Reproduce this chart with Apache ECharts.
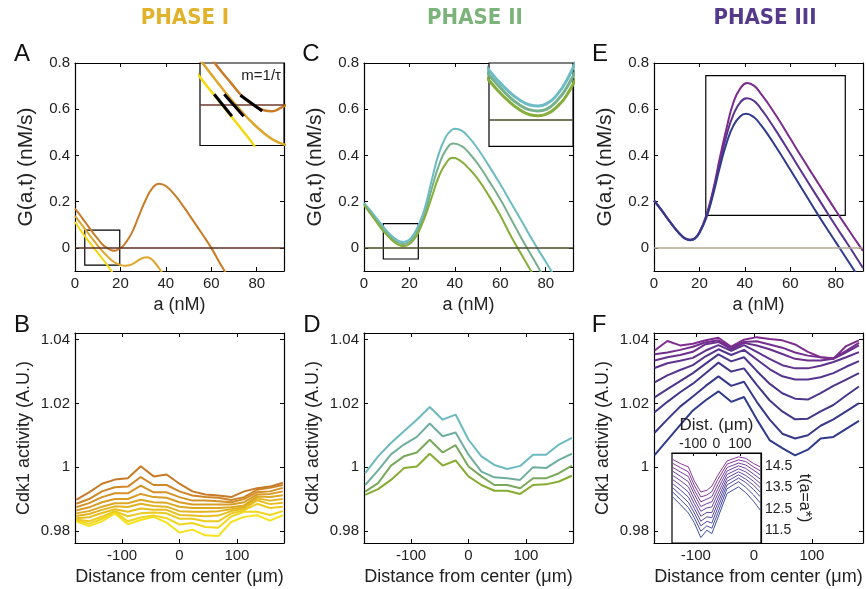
<!DOCTYPE html>
<html>
<head>
<meta charset="utf-8">
<script src="https://cdn.jsdelivr.net/npm/echarts@6/dist/echarts.min.js"></script>
<style>
html, body { margin: 0; padding: 0; background: #fff; }
#main { width: 866px; height: 589px; }
</style>
</head>
<body>
<div id="main"></div>
<script>
// ---------- tick values ----------
var aTicks = [0, 20, 40, 60, 80];
var gTicks = [0, 0.2, 0.4, 0.6, 0.8];
var distTicks = [-100, 0, 100];
var cdkTicks = [0.98, 1, 1.02, 1.04];
var insetTimeTicks = [11.5, 12.5, 13.5, 14.5];

// ---------- panel A : G(a,t), phase I  [a, G] ----------
var phase1Dark = [[0,0.17],[2,0.145],[4,0.118],[6,0.091],[8,0.064],[10,0.04],[12,0.016],[14,0.0],[16,-0.01],[17.5,-0.012],[19,-0.006],[20.5,0.003],[22,0.018],[25,0.065],[28,0.135],[31,0.205],[34,0.258],[37,0.278],[40,0.268],[44,0.228],[48,0.175],[52,0.118],[56,0.06],[60,0.0],[64,-0.07],[66.5,-0.11]];
var phase1Mid = [[0,0.138],[2,0.113],[4,0.087],[6,0.061],[8,0.035],[10,0.01],[12,-0.013],[14,-0.034],[16,-0.052],[18,-0.066],[20,-0.074],[22,-0.077],[24,-0.075],[26,-0.066],[28,-0.053],[30,-0.043],[31.5,-0.04],[33,-0.044],[35,-0.062],[37,-0.088],[38.5,-0.11]];
var phase1Light = [[0,0.112],[2,0.083],[4,0.055],[6,0.029],[8,0.004],[10,-0.021],[12,-0.046],[14,-0.072],[16.5,-0.107]];
// tangent segments m = 1/tau (inset)
var tangent1 = [[6.9,0.0193],[10.15,-0.021]];
var tangent2 = [[8.75,0.0193],[12.3,-0.021]];
var tangent3 = [[11.7,0.0175],[15.7,-0.0116]];
var zoomBoxA = [[4.3,-0.075],[19.7,0.077]];

// ---------- panel C : phase II ----------
var phase2Teal = [[0,0.195],[3,0.16],[6,0.122],[8,0.098],[10,0.074],[12,0.054],[14,0.038],[16,0.028],[17.5,0.026],[19,0.03],[21,0.047],[23,0.078],[25,0.122],[27,0.18],[30,0.3],[33,0.41],[36,0.48],[38,0.505],[40,0.515],[43,0.507],[46,0.48],[50,0.43],[55,0.355],[60,0.275],[65,0.19],[70,0.105],[75,0.02],[80,-0.06],[84,-0.125]];
var phase2Mid = [[0,0.19],[3,0.153],[6,0.114],[8,0.089],[10,0.066],[12,0.045],[14,0.029],[16,0.019],[17.5,0.017],[19,0.02],[21,0.036],[23,0.064],[25,0.105],[27,0.158],[30,0.262],[33,0.358],[36,0.422],[39.5,0.452],[43,0.44],[46,0.413],[50,0.365],[55,0.29],[60,0.21],[65,0.12],[70,0.03],[75,-0.055],[79,-0.125]];
var phase2Green = [[0,0.185],[3,0.146],[6,0.105],[8,0.079],[10,0.056],[12,0.036],[14,0.02],[16,0.01],[17.5,0.008],[19,0.011],[21,0.025],[23,0.05],[25,0.09],[27,0.138],[30,0.225],[33,0.31],[36,0.365],[39,0.39],[42,0.38],[46,0.345],[50,0.3],[55,0.225],[60,0.14],[65,0.045],[70,-0.04],[74,-0.108]];
var zoomBoxC = [[8.5,-0.048],[23.9,0.105]];

// ---------- panel E : phase III ----------
var phase3Purple = [[0,0.205],[3,0.168],[6,0.127],[9,0.088],[12,0.055],[14,0.04],[16,0.035],[18,0.042],[20,0.068],[23,0.14],[26,0.25],[29,0.39],[32,0.52],[35,0.63],[38,0.69],[41,0.714],[44,0.702],[47,0.668],[50,0.628],[55,0.553],[60,0.473],[65,0.393],[70,0.315],[75,0.238],[80,0.162],[85,0.088],[90,0.015],[92,-0.013]];
var phase3Mid = [[0,0.205],[3,0.168],[6,0.127],[9,0.088],[12,0.055],[14,0.04],[16,0.035],[18,0.042],[20,0.067],[23,0.135],[26,0.24],[29,0.37],[32,0.49],[35,0.578],[38,0.63],[41,0.648],[44,0.636],[47,0.603],[50,0.562],[55,0.487],[60,0.408],[65,0.328],[70,0.25],[75,0.172],[80,0.095],[85,0.02],[88,-0.025],[92,-0.087]];
var phase3Blue = [[0,0.205],[3,0.167],[6,0.126],[9,0.087],[12,0.053],[14,0.038],[16,0.033],[18,0.04],[20,0.064],[23,0.13],[26,0.23],[29,0.35],[32,0.455],[35,0.53],[38,0.57],[40.5,0.58],[44,0.565],[47,0.532],[50,0.492],[55,0.417],[60,0.338],[65,0.258],[70,0.178],[75,0.1],[80,0.025],[85,-0.05],[89,-0.11]];
var boxE = [[22.8,0.141],[84.2,0.745]];

// ---------- bottom row : Cdk1 activity profiles ----------
var distBD = [-180,-157.5,-135,-112.5,-90,-67.5,-45,-22.5,0,22.5,45,67.5,90,112.5,135,157.5,180];
var distF = [-171,-149,-127,-105,-83,-61,-39,-17,5,27,49,71,93,115,137,159,181];

var cdkB = [
  [0.9897,0.9921,0.9948,0.9961,0.9965,1.0003,0.9971,0.9977,0.9948,0.9924,0.9914,0.9911,0.9906,0.9924,0.9934,0.9939,0.9951],
  [0.9885,0.9900,0.9924,0.9937,0.9939,0.9969,0.9944,0.9944,0.9924,0.9911,0.9906,0.9904,0.9897,0.9906,0.9929,0.9935,0.9944],
  [0.9874,0.9887,0.9906,0.9918,0.9918,0.9942,0.9921,0.9921,0.9906,0.9895,0.9895,0.9893,0.9890,0.9900,0.9921,0.9924,0.9935],
  [0.9864,0.9874,0.9890,0.9900,0.9900,0.9916,0.9906,0.9904,0.9890,0.9883,0.9883,0.9883,0.9883,0.9890,0.9914,0.9916,0.9924],
  [0.9855,0.9862,0.9876,0.9887,0.9887,0.9898,0.9890,0.9888,0.9876,0.9872,0.9872,0.9872,0.9874,0.9880,0.9908,0.9906,0.9912],
  [0.9847,0.9853,0.9866,0.9877,0.9875,0.9885,0.9878,0.9876,0.9862,0.9860,0.9860,0.9862,0.9868,0.9875,0.9902,0.9895,0.9900],
  [0.9840,0.9843,0.9856,0.9868,0.9860,0.9870,0.9866,0.9866,0.9850,0.9848,0.9846,0.9848,0.9862,0.9870,0.9896,0.9884,0.9888],
  [0.9836,0.9830,0.9845,0.9862,0.9846,0.9855,0.9858,0.9855,0.9838,0.9838,0.9830,0.9830,0.9855,0.9865,0.9885,0.9872,0.9876],
  [0.9833,0.9822,0.9838,0.9860,0.9830,0.9842,0.9848,0.9840,0.9820,0.9825,0.9812,0.9810,0.9845,0.9860,0.9860,0.9850,0.9862],
  [0.9830,0.9815,0.9830,0.9855,0.9821,0.9834,0.9844,0.9826,0.9795,0.9804,0.9786,0.9784,0.9828,0.9844,0.9849,0.9832,0.9849]
];
var colorsB = ['#C97A28','#CE8627','#D39126','#D89D25','#DDA824','#E2B422','#E7BF21','#ECCB20','#F1D61F','#F6E21E'];

var cdkD = [
  [0.9981,1.0034,1.0076,1.0113,1.0149,1.0189,1.0149,1.0165,1.0086,1.0034,1.0007,0.9994,1.0004,1.0039,1.0039,1.0071,1.0092],
  [0.9944,0.9990,1.0040,1.0071,1.0095,1.0137,1.0097,1.0109,1.0039,0.9986,0.9968,0.9965,0.9960,1.0000,0.9997,1.0023,1.0042],
  [0.9923,0.9950,1.0005,1.0034,1.0046,1.0086,1.0046,1.0069,1.0002,0.9971,0.9944,0.9944,0.9934,0.9965,0.9965,0.9981,1.0005],
  [0.9913,0.9931,0.9960,0.9997,1.0002,1.0042,1.0005,1.0021,0.9971,0.9944,0.9926,0.9926,0.9916,0.9944,0.9946,0.9955,0.9973]
];
var colorsD = ['#6BBAC1','#6FAE9E','#79A95C','#86AC30'];

var cdkF = [
  [1.0366,1.0396,1.0382,1.0387,1.0398,1.0406,1.0378,1.0400,1.0408,1.0402,1.0398,1.0385,1.0362,1.0345,1.0340,1.0380,1.0398],
  [1.0354,1.0360,1.0368,1.0378,1.0392,1.0398,1.0375,1.0393,1.0395,1.0385,1.0375,1.0360,1.0350,1.0345,1.0342,1.0365,1.0390],
  [1.0335,1.0345,1.0352,1.0362,1.0386,1.0393,1.0370,1.0390,1.0382,1.0370,1.0355,1.0340,1.0335,1.0335,1.0340,1.0360,1.0382],
  [1.0311,1.0326,1.0334,1.0343,1.0366,1.0383,1.0365,1.0383,1.0362,1.0340,1.0320,1.0310,1.0310,1.0318,1.0330,1.0345,1.0361],
  [1.0266,1.0288,1.0305,1.0320,1.0348,1.0370,1.0352,1.0368,1.0338,1.0308,1.0285,1.0275,1.0275,1.0282,1.0295,1.0315,1.0333],
  [1.0219,1.0245,1.0270,1.0295,1.0325,1.0354,1.0332,1.0345,1.0302,1.0262,1.0232,1.0215,1.0212,1.0232,1.0255,1.0275,1.0295],
  [1.0172,1.0205,1.0235,1.0262,1.0295,1.0328,1.0300,1.0310,1.0258,1.0210,1.0175,1.0150,1.0152,1.0175,1.0195,1.0225,1.0253],
  [1.0108,1.0150,1.0190,1.0222,1.0255,1.0285,1.0255,1.0268,1.0205,1.0150,1.0105,1.0090,1.0100,1.0130,1.0150,1.0175,1.0201],
  [1.0038,1.0085,1.0132,1.0178,1.0210,1.0238,1.0205,1.0220,1.0150,1.0085,1.0060,1.0037,1.0055,1.0090,1.0095,1.0120,1.0145]
];
var colorsF = ['#7E2D8E','#742F8E','#6A308D','#60328D','#56338C','#4C358C','#42378B','#38388B','#2E3A8A'];

// inset of F : profiles against time t(a=a*)
var insetDist = [-187,-155,-120,-95,-67,-41,-20,5,45,94,125,158,187];
var insetProfiles = [
  [14.80,14.61,14.45,13.80,13.28,13.36,13.55,14.05,14.73,14.92,14.85,14.61,14.45],
  [14.62,14.42,14.22,13.60,13.05,13.14,13.30,13.85,14.58,14.78,14.70,14.45,14.27],
  [14.43,14.22,14.00,13.38,12.82,12.95,13.06,13.62,14.42,14.63,14.54,14.30,14.08],
  [14.25,14.02,13.76,13.18,12.60,12.74,12.82,13.40,14.26,14.50,14.38,14.12,13.88],
  [14.05,13.82,13.52,12.95,12.38,12.54,12.58,13.18,14.10,14.36,14.22,13.95,13.68],
  [13.86,13.60,13.28,12.74,12.15,12.33,12.32,12.96,13.94,14.22,14.05,13.78,13.48],
  [13.67,13.38,13.04,12.52,11.92,12.12,12.08,12.74,13.78,14.08,13.88,13.60,13.27],
  [13.48,13.16,12.80,12.30,11.70,11.91,11.83,12.52,13.61,13.93,13.72,13.40,13.06],
  [13.28,12.94,12.56,12.08,11.45,11.70,11.59,12.28,13.43,13.76,13.50,13.14,12.77],
  [13.05,12.70,12.30,11.85,11.15,11.50,11.34,12.05,13.21,13.52,13.25,12.85,12.43]
];
var colorsInset = ['#8B3A9A','#833C9B','#7A3F9C','#72419E','#6A449F','#6146A0','#5948A1','#514BA2','#484DA4','#4050A5'];

// ---------- chart building ----------
var font = "'Liberation Sans', Arial, Helvetica, sans-serif";
var grids = [], xAxes = [], yAxes = [], series = [];

function axisCommon(ticks) {
  return {
    type: 'value',
    axisLine: { show: true, onZero: false, lineStyle: { color: '#000', width: 1.2 } },
    axisTick: { show: true, inside: true, length: 4, customValues: ticks, lineStyle: { color: '#000', width: 1 } },
    axisLabel: { show: false },
    splitLine: { show: false }
  };
}

// main panel with box and inward ticks on all sides
function addPanel(box, xr, yr, xt, yt, xName, yName, yGap, yNameSize) {
  var gi = grids.length;
  grids.push({ left: box[0], top: box[1], width: box[2], height: box[3] });
  var xi = xAxes.length, yi = yAxes.length;
  var xb = axisCommon(xt);
  xb.gridIndex = gi; xb.min = xr[0]; xb.max = xr[1]; xb.position = 'bottom';
  xb.axisLabel = { show: true, customValues: xt, fontSize: 15, color: '#222', fontFamily: font, margin: 5 };
  xb.name = xName; xb.nameLocation = 'middle'; xb.nameGap = 25;
  xb.nameTextStyle = { fontSize: 18, color: '#222', fontFamily: font };
  var xtop = axisCommon(xt);
  xtop.gridIndex = gi; xtop.min = xr[0]; xtop.max = xr[1]; xtop.position = 'top';
  var yl = axisCommon(yt);
  yl.gridIndex = gi; yl.min = yr[0]; yl.max = yr[1]; yl.position = 'left';
  yl.axisLabel = { show: true, customValues: yt, fontSize: 15, color: '#222', fontFamily: font, margin: 5 };
  yl.name = yName; yl.nameLocation = 'middle'; yl.nameGap = yGap;
  yl.nameTextStyle = { fontSize: yNameSize, color: '#222', fontFamily: font };
  var yr2 = axisCommon(yt);
  yr2.gridIndex = gi; yr2.min = yr[0]; yr2.max = yr[1]; yr2.position = 'right';
  xAxes.push(xb, xtop);
  yAxes.push(yl, yr2);
  return { x: xi, y: yi };
}

// plain inset box (no labels)
function addInset(box, xr, yr) {
  var gi = grids.length;
  grids.push({ left: box[0], top: box[1], width: box[2], height: box[3], show: true,
    backgroundColor: '#fff', borderColor: '#000', borderWidth: 1.2, z: 10 });
  var xi = xAxes.length, yi = yAxes.length;
  xAxes.push({ gridIndex: gi, type: 'value', min: xr[0], max: xr[1], show: false, z: 11 });
  yAxes.push({ gridIndex: gi, type: 'value', min: yr[0], max: yr[1], show: false, z: 11 });
  return { x: xi, y: yi };
}

function curve(ax, data, color, width, smooth, z) {
  return { type: 'line', xAxisIndex: ax.x, yAxisIndex: ax.y, data: data, symbol: 'none',
    smooth: smooth, lineStyle: { color: color, width: width }, z: z || 2, silent: true, clip: true };
}

function zeroLine(s, color) {
  s.markLine = { silent: true, symbol: 'none', animation: false, label: { show: false }, z: (s.z || 2) + 1,
    lineStyle: { color: color, width: 1.5, type: 'solid' }, data: [{ yAxis: 0 }] };
  return s;
}

function boxArea(s, corners) {
  s.markArea = { silent: true, animation: false,
    itemStyle: { color: 'rgba(0,0,0,0)', borderColor: '#000', borderWidth: 1.2 },
    data: [[{ coord: corners[0] }, { coord: corners[1] }]] };
  return s;
}

var gName = 'G(a,t) (nM/s)';
var cdkName = 'Cdk1 activity (A.U.)';
var distName = 'Distance from center (\u03bcm)';

// A
var axA = addPanel([75, 63, 209, 208], [0, 92], [-0.1, 0.8], aTicks, gTicks, 'a (nM)', gName, 38, 21);
var sA = zeroLine(curve(axA, phase1Dark, '#C97B26', 2, true, 3), '#5E2C22');
boxArea(sA, zoomBoxA);
series.push(sA, curve(axA, phase1Mid, '#DEA72C', 2, true), curve(axA, phase1Light, '#F5D90F', 2, true));
var inA = addInset([200, 63, 84, 82.5], [zoomBoxA[0][0], zoomBoxA[1][0]], [zoomBoxA[0][1], zoomBoxA[1][1]]);
series.push(zeroLine(curve(inA, phase1Dark, '#C97B26', 2.5, true, 12), '#6E3A2C'),
  curve(inA, phase1Mid, '#DEA72C', 2.5, true, 12), curve(inA, phase1Light, '#F5D90F', 2.5, true, 12),
  curve(inA, tangent1, '#000', 3, false, 14), curve(inA, tangent2, '#000', 3, false, 14), curve(inA, tangent3, '#000', 3, false, 14));

// C
var axC = addPanel([364, 63, 209, 208], [0, 92], [-0.1, 0.8], aTicks, gTicks, 'a (nM)', gName, 38, 21);
var sC = zeroLine(curve(axC, phase2Green, '#86AE3A', 2, true, 3), '#4A4A28');
boxArea(sC, zoomBoxC);
series.push(sC, curve(axC, phase2Mid, '#76B08C', 2, true), curve(axC, phase2Teal, '#6DBBC3', 2, true));
var inC = addInset([489, 63, 84, 83.4], [zoomBoxC[0][0], zoomBoxC[1][0]], [zoomBoxC[0][1], zoomBoxC[1][1]]);
series.push(zeroLine(curve(inC, phase2Green, '#86AE3A', 3, true, 12), '#4A4A28'),
  curve(inC, phase2Mid, '#76B08C', 3, true, 12), curve(inC, phase2Teal, '#6DBBC3', 3, true, 12));

// E
var axE = addPanel([654, 63, 209, 208], [0, 92], [-0.1, 0.8], aTicks, gTicks, 'a (nM)', gName, 38, 21);
var sE = zeroLine(curve(axE, phase3Blue, '#2F3C8C', 2, true, 3), '#B0A890');
boxArea(sE, boxE);
series.push(sE, curve(axE, phase3Mid, '#5A3390', 2, true), curve(axE, phase3Purple, '#7B2C8C', 2, true));

// B
var axB = addPanel([75, 333, 209, 210], [-182, 182], [0.9762, 1.0421], distTicks, cdkTicks, distName, cdkName, 42, 18);
for (var i = cdkB.length - 1; i >= 0; i--) {
  series.push(curve(axB, distBD.map(function (d, k) { return [d, cdkB[i][k]]; }), colorsB[i], 2, false));
}

// D
var axD = addPanel([364, 333, 209, 210], [-182, 182], [0.9762, 1.0421], distTicks, cdkTicks, distName, cdkName, 42, 18);
for (var j = cdkD.length - 1; j >= 0; j--) {
  series.push(curve(axD, distBD.map(function (d, k) { return [d, cdkD[j][k]]; }), colorsD[j], 2, false));
}

// F
var axF = addPanel([654, 333, 209, 210], [-172, 188], [0.9762, 1.0421], distTicks, cdkTicks, distName, cdkName, 42, 18);
for (var m = cdkF.length - 1; m >= 0; m--) {
  series.push(curve(axF, distF.map(function (d, k) { return [d, cdkF[m][k]]; }), colorsF[m], 2, false));
}

// F inset with its own top and right axes
var giF = grids.length;
grids.push({ left: 672, top: 453, width: 89, height: 90, show: true, backgroundColor: '#fff',
  borderColor: '#000', borderWidth: 1.2, z: 10 });
var inF = { x: xAxes.length, y: yAxes.length };
xAxes.push({ gridIndex: giF, type: 'value', min: -190, max: 190, position: 'top', z: 11,
  axisLine: { show: true, onZero: false, lineStyle: { color: '#000', width: 1.2 } },
  axisTick: { show: true, inside: true, length: 3, customValues: distTicks, lineStyle: { color: '#000' } },
  axisLabel: { customValues: distTicks, fontSize: 14, color: '#222', fontFamily: font, margin: 2 },
  splitLine: { show: false },
  name: 'Dist. (\u03bcm)', nameLocation: 'middle', nameGap: 19,
  nameTextStyle: { fontSize: 17, color: '#222', fontFamily: font } });
yAxes.push({ gridIndex: giF, type: 'value', min: 10.9, max: 15.1, position: 'right', z: 11,
  axisLine: { show: true, onZero: false, lineStyle: { color: '#000', width: 1.2 } },
  axisTick: { show: false },
  axisLabel: { customValues: insetTimeTicks, fontSize: 14, color: '#222', fontFamily: font, margin: 4,
    formatter: function (v) { return v.toFixed(1); } },
  splitLine: { show: false },
  name: 't(a=a*)', nameLocation: 'middle', nameGap: 34, nameRotate: -90,
  nameTextStyle: { fontSize: 16, color: '#222', fontFamily: font } });
for (var n = 0; n < insetProfiles.length; n++) {
  series.push(curve(inF, insetDist.map(function (d, k) { return [d, insetProfiles[n][k]]; }), colorsInset[n], 1, false, 12));
}

// ---------- titles, panel letters ----------
function label(x, y, text, size, color, weight, family, align) {
  return { type: 'text', x: x, y: y, z: 50, silent: true,
    style: { text: text, fill: color, fontSize: size, fontWeight: weight || 'normal',
      fontFamily: family || font, align: align || 'center', verticalAlign: 'middle' } };
}
var narrow = "'Liberation Sans Narrow', 'DejaVu Sans Condensed', 'Liberation Sans', sans-serif";
var graphics = [
  label(185, 18, 'PHASE I', 22, '#E2B22A', 'bold', narrow),
  label(475, 18, 'PHASE II', 22, '#7BB37A', 'bold', narrow),
  label(765, 18, 'PHASE III', 22, '#553A8C', 'bold', narrow),
  label(22, 54, 'A', 24, '#111'), label(311, 54, 'C', 24, '#111'), label(600, 54, 'E', 24, '#111'),
  label(22, 325, 'B', 24, '#111'), label(312, 325, 'D', 24, '#111'), label(599, 325, 'F', 24, '#111'),
  label(281, 76, 'm=1/\u03c4', 15, '#222', 'normal', font, 'right')
];

var chart = echarts.init(document.getElementById('main'), null, { renderer: 'canvas' });
chart.setOption({
  animation: false,
  backgroundColor: '#fff',
  grid: grids,
  xAxis: xAxes,
  yAxis: yAxes,
  series: series,
  graphic: graphics
});
</script>
</body>
</html>
